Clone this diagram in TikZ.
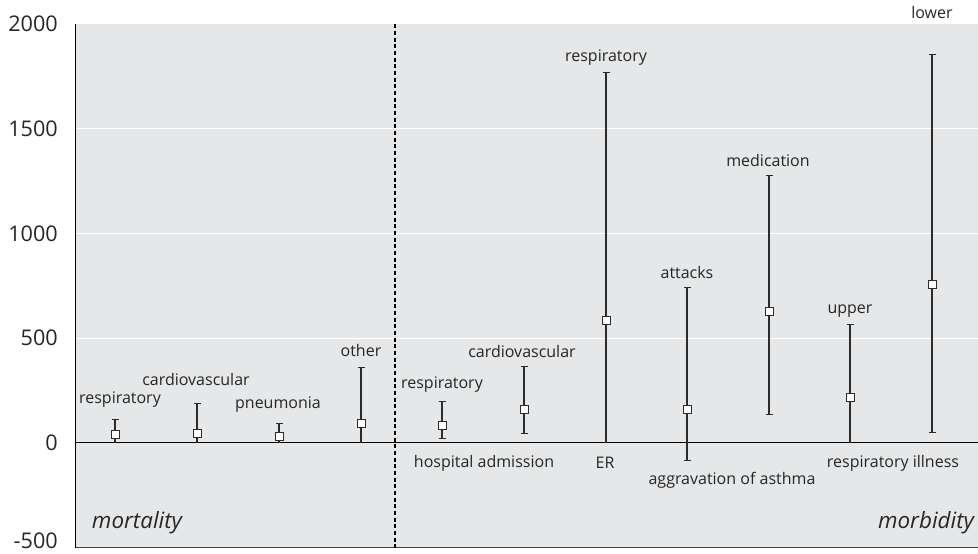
\documentclass[tikz,border=0pt]{standalone}
\usepackage{fontspec}
\setmainfont{Open Sans}
\definecolor{plotbg}{HTML}{E6E7E8}
\definecolor{barline}{HTML}{2B2B2B}
\definecolor{labeltext}{HTML}{262626}
\begin{document}
\begin{tikzpicture}[x=0.75pt,y=0.157pt,
  whisker/.style={draw=barline,line width=0.8pt},
  meanbox/.style={draw=barline,fill=white,line width=0.6pt,minimum size=6pt,inner sep=0pt},
  tag/.style={font=\fontsize{12}{14}\selectfont,text=labeltext,inner sep=0pt},
  ytick/.style={font=\fontsize{16.2}{18}\selectfont,text=labeltext,anchor=east,inner sep=0pt},
  part/.style={font=\fontsize{16.8}{19}\itshape,text=labeltext,inner sep=0pt}]
\useasboundingbox (0,2115.5) rectangle (978,-530.1);
% plot area and grid
\fill[plotbg] (75.5,2000) rectangle (978,-500);
\draw[white,line width=0.8pt] (75.5,500) -- (978,500);
\draw[white,line width=0.8pt] (75.5,1000) -- (978,1000);
\draw[white,line width=0.8pt] (75.5,1500) -- (978,1500);
\draw[black!75,line width=1.4pt] (75.5,-500) -- (978,-500);
\draw[black,line width=0.8pt] (75.5,2000) -- (75.5,-500);
\draw[black,line width=0.8pt] (75.5,0) -- (978,0);
\draw[black,line width=1.6pt,dash pattern=on 3pt off 2pt] (395,2000) -- (395,-500);
% y axis
\node[ytick] (t2000) at (58,2000) {2000};
\node[ytick] (t1500) at (58,1500) {1500};
\node[ytick] (t1000) at (58,1000) {1000};
\node[ytick] (t500)  at (58,500)  {500};
\node[ytick] (t0)    at (58,0)    {0};
\node[ytick,anchor=south east] (tm500) at (58,-506) {-500};
% mortality
\draw[whisker] (115,0) -- (115,113); \draw[whisker] (111.5,113) -- (118.5,113);
\node[meanbox] (m1) at (115,38) {};
\draw[whisker] (197,0) -- (197,190); \draw[whisker] (193.5,190) -- (200.5,190);
\node[meanbox] (m2) at (197,45) {};
\draw[whisker] (279,0) -- (279,92); \draw[whisker] (275.5,92) -- (282.5,92);
\node[meanbox] (m3) at (279,33) {};
\draw[whisker] (361,0) -- (361,361); \draw[whisker] (357.5,361) -- (364.5,361);
\node[meanbox] (m4) at (361,91) {};
% morbidity
\draw[whisker] (442,19) -- (442,197); \draw[whisker] (438.5,197) -- (445.5,197);
\draw[whisker] (438.5,19) -- (445.5,19);
\node[meanbox] (m5) at (442,84) {};
\draw[whisker] (524,43) -- (524,365); \draw[whisker] (520.5,365) -- (527.5,365);
\draw[whisker] (520.5,43) -- (527.5,43);
\node[meanbox] (m6) at (524,161) {};
\draw[whisker] (606,0) -- (606,1767); \draw[whisker] (602.5,1767) -- (609.5,1767);
\node[meanbox] (m7) at (606,586) {};
\draw[whisker] (687,-86) -- (687,744); \draw[whisker] (683.5,744) -- (690.5,744);
\draw[whisker] (683.5,-86) -- (690.5,-86);
\node[meanbox] (m8) at (687,162) {};
\draw[whisker] (769,134) -- (769,1277); \draw[whisker] (765.5,1277) -- (772.5,1277);
\draw[whisker] (765.5,134) -- (772.5,134);
\node[meanbox] (m9) at (769,626) {};
\draw[whisker] (850,0) -- (850,567); \draw[whisker] (846.5,567) -- (853.5,567);
\node[meanbox] (m10) at (850,218) {};
\draw[whisker] (932,51) -- (932,1853); \draw[whisker] (928.5,1853) -- (935.5,1853);
\draw[whisker] (928.5,51) -- (935.5,51);
\node[meanbox] (m11) at (932,758) {};
% labels
\node[tag] (respm)   at (120,205)  {respiratory};
\node[tag] (cardm)   at (196,301)  {cardiovascular};
\node[tag] (pneu)    at (278,181)  {pneumonia};
\node[tag] (other)   at (361,439)  {other};
\node[tag] (resph)   at (442,277)  {respiratory};
\node[tag] (cardh)   at (522,435)  {cardiovascular};
\node[tag] (hosp)    at (484,-96)  {hospital admission};
\node[tag] (resper)  at (606,1839) {respiratory};
\node[tag] (er)      at (605,-96)  {ER};
\node[tag] (attacks) at (687,813)  {attacks};
\node[tag] (aggr)    at (732,-177) {aggravation of asthma};
\node[tag] (medic)   at (768,1348) {medication};
\node[tag] (upper)   at (850,630)  {upper};
\node[tag] (lower)   at (932,2058) {lower};
\node[tag] (respill) at (893,-97)  {respiratory illness};
\node[part] (mort) at (137,-382) {mortality};
\node[part] (morb) at (926,-382) {morbidity};
\end{tikzpicture}
\end{document}
